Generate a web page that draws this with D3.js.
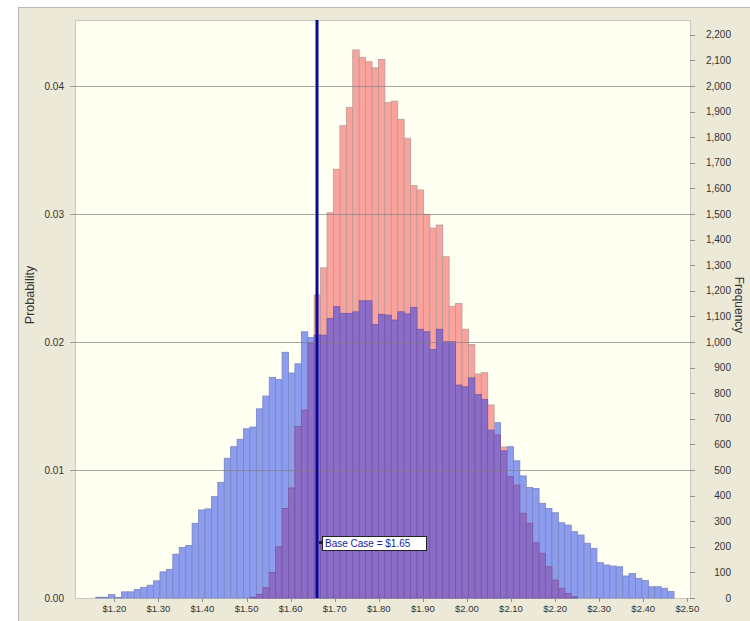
<!DOCTYPE html>
<html>
<head>
<meta charset="utf-8">
<script src="https://cdn.jsdelivr.net/npm/d3@7"></script>
<style>
  body { margin: 0; background: #fff; }
  svg text { font-family: "Liberation Sans", Arial, sans-serif; }
</style>
</head>
<body>
<div id="chart"></div>
<script>
// histogram bins (price, $)
var binStart = 1.1578;
var binWidth = 0.014579;

// blue forecast, frequency per bin (90 bins)
var blueFreq = [
    3, 3, 13, 2, 24, 24, 33, 42, 50, 67,
    102, 112, 171, 197, 205, 292, 344, 348, 396, 452,
    546, 591, 620, 661, 668, 739, 789, 862, 853, 960,
    879, 915, 1040, 1018, 1027, 1027, 1092, 1138, 1112, 1112,
    1118, 1161, 1161, 1069, 1108, 1105, 1086, 1118, 1110, 1135,
    1050, 1040, 971, 1050, 1001, 1001, 832, 825, 860, 795,
    776, 656, 685, 575, 591, 536, 477, 432, 428, 370,
    350, 333, 294, 285, 259, 246, 214, 194, 138, 129,
    125, 122, 86, 96, 77, 68, 44, 44, 38, 25
];

// red forecast, frequency per bin (same bins)
var redFreq = [
    0, 0, 0, 0, 0, 0, 0, 0, 0, 0,
    0, 0, 0, 0, 0, 0, 0, 0, 0, 0,
    0, 0, 0, 0, 3, 14, 40, 100, 200, 350,
    430, 670, 734, 997, 1184, 1290, 1505, 1675, 1845, 1917,
    2141, 2111, 2095, 2071, 2104, 1935, 1941, 1870, 1796, 1611,
    1594, 1499, 1445, 1457, 1333, 1140, 1150, 1050, 990, 875,
    880, 754, 637, 590, 474, 441, 331, 292, 216, 175,
    122, 70, 38, 18, 5, 0, 0, 0, 0, 0,
    0, 0, 0, 0, 0, 0, 0, 0, 0, 0
];

var trials = 50000;
var xTicks = [1.20, 1.30, 1.40, 1.50, 1.60, 1.70, 1.80, 1.90, 2.00, 2.10, 2.20, 2.30, 2.40, 2.50];
var probTicks = [0.00, 0.01, 0.02, 0.03, 0.04];
var freqTicks = [0, 100, 200, 300, 400, 500, 600, 700, 800, 900, 1000, 1100,
    1200, 1300, 1400, 1500, 1600, 1700, 1800, 1900, 2000, 2100, 2200];

var baseCase = 1.659;
var baseCaseLabel = "Base Case = $1.65";

var width = 750, height = 621;
var plot = { left: 75, top: 20, right: 690, bottom: 598 };

var svg = d3.select("#chart").append("svg")
    .attr("width", width)
    .attr("height", height);

// outer panel
svg.append("rect")
    .attr("x", 18.5).attr("y", 7.5)
    .attr("width", 740).attr("height", 620)
    .style("fill", "#ECE9D8")
    .style("stroke", "#B8B8B8");

var x = d3.scaleLinear().domain([1.1108, 2.5061]).range([plot.left, plot.right]);
var yFreq = d3.scaleLinear().domain([0, 2258]).range([plot.bottom, plot.top]);
var yProb = d3.scaleLinear().domain([0, 2258 / trials]).range([plot.bottom, plot.top]);

// plot background
svg.append("rect")
    .attr("x", plot.left + 0.5).attr("y", plot.top + 0.5)
    .attr("width", plot.right - plot.left).attr("height", plot.bottom - plot.top)
    .style("fill", "#FFFFF2")
    .style("stroke", "#C8C8C0");

var bins = blueFreq.map(function(d, i) {
    return {
        x0: binStart + i * binWidth,
        x1: binStart + (i + 1) * binWidth,
        blue: d,
        red: redFreq[i]
    };
});

function drawBars(cls, value, fill, stroke) {
    svg.append("g").attr("class", cls)
        .selectAll("rect")
        .data(bins.filter(function(d) { return value(d) > 0; }))
      .enter().append("rect")
        .attr("x", function(d) { return x(d.x0); })
        .attr("y", function(d) { return yFreq(value(d)); })
        .attr("width", function(d) { return x(d.x1) - x(d.x0); })
        .attr("height", function(d) { return plot.bottom - yFreq(value(d)); })
        .style("fill", fill)
        .style("stroke", stroke)
        .style("stroke-width", 0.8);
}

drawBars("blue", function(d) { return d.blue; }, "#8C9DF0", "#7A84C0");
drawBars("red", function(d) { return d.red; }, "#FAA39C", "#B89A98");
drawBars("overlap", function(d) { return Math.min(d.blue, d.red); }, "#8B6CC6", "#7458A8");

// gridlines on top of the bars
svg.append("g").selectAll("line")
    .data(probTicks.filter(function(d) { return d > 0; }))
  .enter().append("line")
    .attr("x1", plot.left - 5).attr("x2", plot.right)
    .attr("y1", function(d) { return Math.round(yProb(d)) + 0.5; })
    .attr("y2", function(d) { return Math.round(yProb(d)) + 0.5; })
    .style("stroke", "#808080")
    .style("stroke-opacity", 0.7);

// left axis
var gl = svg.append("g");
gl.selectAll("text")
    .data(probTicks)
  .enter().append("text")
    .attr("x", 64)
    .attr("y", function(d) { return yProb(d) + 3.5; })
    .attr("text-anchor", "end")
    .style("font-size", "10px")
    .style("fill", "#333")
    .text(function(d) { return d3.format(".2f")(d); });

gl.append("text")
    .attr("transform", "translate(34," + 295 + ") rotate(-90)")
    .attr("text-anchor", "middle")
    .style("font-size", "12.5px")
    .style("fill", "#333")
    .text("Probability");

// right axis
var gr = svg.append("g");
gr.selectAll("line")
    .data(freqTicks)
  .enter().append("line")
    .attr("x1", plot.right).attr("x2", plot.right + 5)
    .attr("y1", function(d) { return Math.round(yFreq(d)) + 0.5; })
    .attr("y2", function(d) { return Math.round(yFreq(d)) + 0.5; })
    .style("stroke", "#909090");
gr.selectAll("text")
    .data(freqTicks)
  .enter().append("text")
    .attr("x", 731)
    .attr("y", function(d) { return yFreq(d) + 3.5; })
    .attr("text-anchor", "end")
    .style("font-size", "10px")
    .style("fill", "#333")
    .text(function(d) { return d3.format(",")(d); });

gr.append("text")
    .attr("transform", "translate(735," + 305 + ") rotate(90)")
    .attr("text-anchor", "middle")
    .style("font-size", "12px")
    .style("fill", "#333")
    .text("Frequency");

// bottom axis
var gb = svg.append("g");
gb.selectAll("line")
    .data(xTicks)
  .enter().append("line")
    .attr("x1", function(d) { return Math.round(x(d)) + 0.5; })
    .attr("x2", function(d) { return Math.round(x(d)) + 0.5; })
    .attr("y1", plot.bottom).attr("y2", plot.bottom + 4)
    .style("stroke", "#909090");
gb.selectAll("text")
    .data(xTicks)
  .enter().append("text")
    .attr("x", function(d) { return x(d); })
    .attr("y", 612)
    .attr("text-anchor", "middle")
    .style("font-size", "9.5px")
    .style("fill", "#333")
    .text(function(d) { return d3.format("$.2f")(d); });

// base case marker
var bx = Math.round(x(baseCase));
svg.append("line")
    .attr("x1", bx).attr("x2", bx)
    .attr("y1", plot.top).attr("y2", plot.bottom)
    .style("stroke", "#0A0A9A")
    .style("stroke-width", 3);

var label = svg.append("g").attr("transform", "translate(" + (bx + 5) + ",536)");
label.append("rect")
    .attr("x", 0.5).attr("y", 0.5)
    .attr("width", 104).attr("height", 14)
    .style("fill", "#fff")
    .style("stroke", "#222");
label.append("text")
    .attr("x", 3).attr("y", 11)
    .style("font-size", "10px")
    .style("fill", "#1A1AA0")
    .text(baseCaseLabel);
label.append("rect")
    .attr("x", -3).attr("y", 5)
    .attr("width", 3).attr("height", 3)
    .style("fill", "#222");
</script>
</body>
</html>
